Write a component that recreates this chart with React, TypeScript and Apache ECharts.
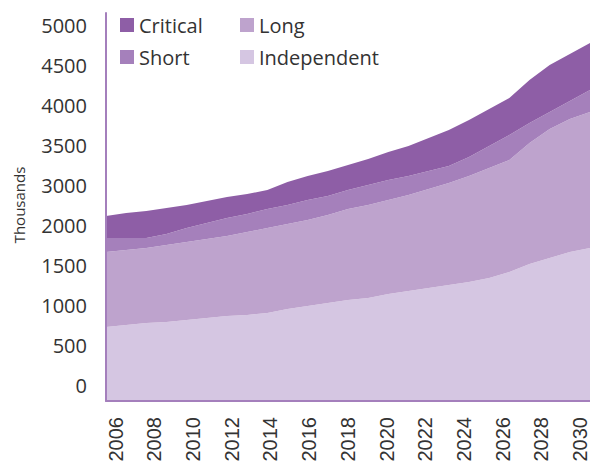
import React, { useEffect, useRef } from "react";
import * as echarts from "echarts";

const years = [
  "2006", "2007", "2008", "2009", "2010", "2011", "2012", "2013", "2014", "2015",
  "2016", "2017", "2018", "2019", "2020", "2021", "2022", "2023", "2024", "2025",
  "2026", "2027", "2028", "2029", "2030",
];

const yTickLabels = ["0", "500", "1000", "1500", "2000", "3000", "3500", "4000", "4500", "5000"];

const independent = [
  725, 750, 775, 787.5, 812.5, 837.5, 862.5, 875, 900, 950,
  987.5, 1025, 1062.5, 1087.5, 1137.5, 1175, 1212.5, 1250, 1287.5, 1337.5,
  1412.5, 1512.5, 1587.5, 1662.5, 1712.5,
];
const longTerm = [
  937.5, 937.5, 937.5, 962.5, 975, 987.5, 1000, 1037.5, 1062.5, 1062.5,
  1075, 1100, 1137.5, 1162.5, 1175, 1200, 1237.5, 1275, 1325, 1375,
  1400, 1512.5, 1612.5, 1662.5, 1700,
];
const shortTerm = [
  175, 150, 125, 137.5, 175, 200, 225, 225, 237.5, 237.5,
  250, 237.5, 237.5, 250, 250, 237.5, 225, 212.5, 237.5, 275,
  312.5, 250, 212.5, 225, 275,
];
const critical = [
  275, 312.5, 337.5, 325, 287.5, 275, 262.5, 250, 237.5, 287.5,
  300, 312.5, 312.5, 325, 350, 375, 412.5, 450, 462.5, 462.5,
  462.5, 537.5, 587.5, 587.5, 587.5,
];

const colors = {
  Critical: "#8e5ea6",
  Short: "#a580bb",
  Long: "#bea3cd",
  Independent: "#d5c6e2",
};

const axisColor = "#a47fbc";
const textColor = "#333333";
const sansFont = "'Open Sans', 'Noto Sans', sans-serif";

export default function App() {
  const ref = useRef<HTMLDivElement>(null);

  useEffect(() => {
    if (!ref.current) return;
    const chart = echarts.init(ref.current, null, { renderer: "svg" });

    const legendItem = (name: string, left: number, top: number) => ({
      show: true,
      data: [name],
      left,
      top,
      padding: 0,
      icon: "rect",
      itemWidth: 14,
      itemHeight: 14,
      itemGap: 0,
      selectedMode: false,
      textStyle: { fontFamily: sansFont, fontSize: 20, color: textColor, padding: [0, 0, 0, 0] },
    });

    const mkSeries = (name: string, data: number[], extra: any = {}) => ({
      name,
      type: "line",
      stack: "total",
      xAxisIndex: 0,
      yAxisIndex: 0,
      data,
      symbol: "none",
      showSymbol: false,
      lineStyle: { width: 0, color: colors[name as keyof typeof colors] },
      itemStyle: { color: colors[name as keyof typeof colors] },
      areaStyle: { color: colors[name as keyof typeof colors], opacity: 1, ...extra },
      z: 2,
    });

    chart.setOption({
      animation: false,
      backgroundColor: "#ffffff",
      legend: [
        legendItem("Critical", 120, 15),
        legendItem("Long", 240, 15),
        legendItem("Short", 120, 47),
        legendItem("Independent", 240, 47),
      ],
      grid: [
        { left: 106, right: 0, top: 13, bottom: 64 },
        { left: 106, right: 0, top: 5, bottom: 60 },
      ],
      xAxis: [
        {
          type: "category",
          gridIndex: 0,
          data: years,
          boundaryGap: false,
          axisLine: { show: true, onZero: false, lineStyle: { color: axisColor, width: 2 } },
          axisTick: { show: false },
          axisLabel: { show: false },
          splitLine: { show: false },
          z: 5,
        },
        {
          type: "category",
          gridIndex: 1,
          data: years,
          boundaryGap: true,
          axisLine: { show: false },
          axisTick: { show: false },
          axisLabel: {
            interval: 1,
            rotate: 90,
            margin: 12,
            fontFamily: "'Liberation Sans', Arial, sans-serif",
            fontSize: 20,
            color: textColor,
          },
          splitLine: { show: false },
        },
      ],
      yAxis: [
        {
          type: "value",
          gridIndex: 0,
          min: -200,
          max: 4650,
          axisLine: { show: true, onZero: false, lineStyle: { color: axisColor, width: 2 } },
          axisTick: { show: false },
          axisLabel: { show: false },
          splitLine: { show: false },
          z: 5,
        },
        {
          type: "category",
          gridIndex: 1,
          data: yTickLabels,
          boundaryGap: true,
          axisLine: { show: false },
          axisTick: { show: false },
          splitLine: { show: false },
          axisLabel: {
            margin: 19,
            fontFamily: sansFont,
            fontSize: 20,
            color: textColor,
          },
          name: "Thousands",
          nameLocation: "middle",
          nameRotate: 90,
          nameGap: 80,
          nameTextStyle: { fontFamily: sansFont, fontSize: 15, color: textColor },
        },
      ],
      series: [
        mkSeries("Independent", independent, { origin: "start" }),
        mkSeries("Long", longTerm),
        mkSeries("Short", shortTerm),
        mkSeries("Critical", critical),
      ],
    });

    return () => chart.dispose();
  }, []);

  return <div ref={ref} style={{ width: 590, height: 465, position: "absolute", left: 0, top: 0 }} />;
}
